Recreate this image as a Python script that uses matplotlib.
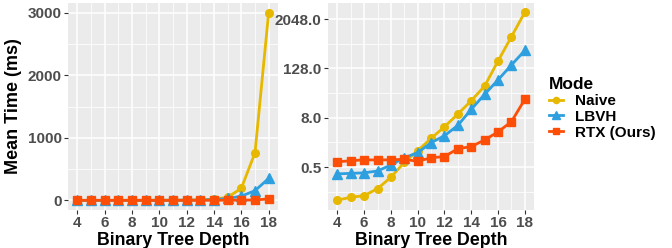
import matplotlib
matplotlib.use("Agg")
import matplotlib.pyplot as plt
from matplotlib.ticker import FixedLocator, FixedFormatter, NullFormatter

plt.rcParams['font.family'] = ['Liberation Sans', 'DejaVu Sans']

depth = list(range(4, 19))
naive = [0.078, 0.091, 0.10, 0.148, 0.28, 0.65, 1.25, 2.5, 4.8, 9.8, 20.8, 47.5, 194, 760, 3000]
lbvh = [0.34, 0.35, 0.36, 0.40, 0.56, 0.84, 1.12, 1.96, 2.9, 5.2, 12.8, 29.8, 67, 155, 350]
rtx = [0.67, 0.71, 0.75, 0.74, 0.75, 0.77, 0.69, 0.84, 0.90, 1.4, 1.57, 2.3, 3.6, 6.4, 22.5]

modes = ['Naive', 'LBVH', 'RTX (Ours)']
colors = ['#E7B800', '#2E9FDF', '#FC4E07']
markers = ['o', '^', 's']
series = [naive, lbvh, rtx]

fig = plt.figure(figsize=(6.72, 2.48), dpi=100)
ax1 = fig.add_axes([0.101, 0.153, 0.313, 0.835])
ax2 = fig.add_axes([0.488, 0.153, 0.307, 0.835])


def style(ax):
    ax.set_facecolor('#EBEBEB')
    for s in ax.spines.values():
        s.set_visible(False)
    ax.grid(True, which='major', color='white', linewidth=1.1)
    ax.grid(True, which='minor', color='white', linewidth=0.55)
    ax.set_axisbelow(True)
    ax.tick_params(which='major', length=3, color='#333333', width=0.8,
                   labelsize=11, labelcolor='#4D4D4D', pad=1.5)
    ax.tick_params(which='minor', length=0)
    for lab in ax.get_xticklabels() + ax.get_yticklabels():
        lab.set_fontweight('bold')
    ax.set_xlim(3.3, 18.7)
    ax.xaxis.set_major_locator(FixedLocator([4, 6, 8, 10, 12, 14, 16, 18]))
    ax.xaxis.set_minor_locator(FixedLocator([5, 7, 9, 11, 13, 15, 17]))
    ax.set_xlabel('Binary Tree Depth', fontsize=12.8, fontweight='bold', labelpad=1)


for ax in (ax1, ax2):
    for vals, c, m, name in zip(series, colors, markers, modes):
        ax.plot(depth, vals, color=c, marker=m, markersize=5.5 if m != '^' else 6.5,
                linewidth=2.0, label=name)

ax1.set_ylim(-155, 3155)
ax1.yaxis.set_major_locator(FixedLocator([0, 1000, 2000, 3000]))
ax1.yaxis.set_minor_locator(FixedLocator([500, 1500, 2500]))
ax1.set_ylabel('Mean Time (ms)', fontsize=13, fontweight='bold', labelpad=4)
style(ax1)

ax2.set_yscale('log', base=2)
ax2.set_ylim(2 ** -4.49, 2 ** 12.3)
ax2.yaxis.set_major_locator(FixedLocator([0.5, 8, 128, 2048]))
ax2.yaxis.set_major_formatter(FixedFormatter(['0.5', '8.0', '128.0', '2048.0']))
ax2.yaxis.set_minor_locator(FixedLocator([0.125, 2, 32, 512]))
ax2.yaxis.set_minor_formatter(NullFormatter())
style(ax2)

handles, labels = ax2.get_legend_handles_labels()
leg = fig.legend(handles, labels, title='Mode', loc='upper left',
                 bbox_to_anchor=(0.806, 0.72), frameon=False,
                 prop={'weight': 'bold', 'size': 11}, handlelength=0.9,
                 handletextpad=0.8, labelspacing=0.12, borderpad=0,
                 markerscale=0.8)
leg.get_title().set_fontweight('bold')
leg.get_title().set_fontsize(12.5)
leg._legend_box.align = 'left'

fig.savefig('out.png', dpi=100)
